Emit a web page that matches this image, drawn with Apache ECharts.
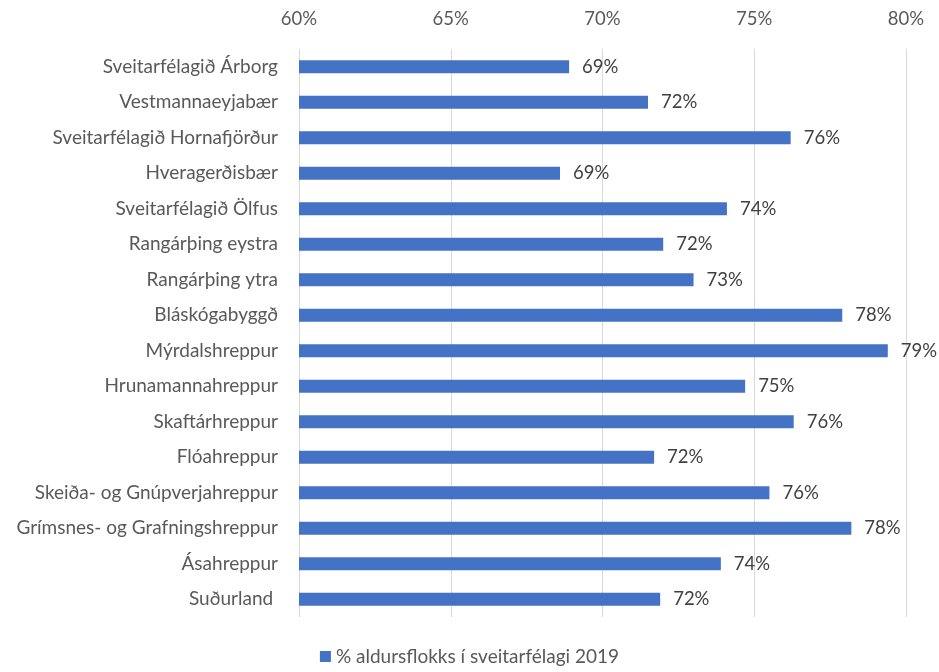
<!DOCTYPE html>
<html>
<head>
<meta charset="utf-8">
<script src="https://cdn.jsdelivr.net/npm/echarts@6/dist/echarts.min.js"></script>
<style>
html,body{margin:0;padding:0;background:#fff;}
#chart{width:939px;height:672px;}
</style>
</head>
<body>
<div id="chart"></div>
<script>
const categories = [
  "Sveitarfélagið Árborg",
  "Vestmannaeyjabær",
  "Sveitarfélagið Hornafjörður",
  "Hveragerðisbær",
  "Sveitarfélagið Ölfus",
  "Rangárþing eystra",
  "Rangárþing ytra",
  "Bláskógabyggð",
  "Mýrdalshreppur",
  "Hrunamannahreppur",
  "Skaftárhreppur",
  "Flóahreppur",
  "Skeiða- og Gnúpverjahreppur",
  "Grímsnes- og Grafningshreppur",
  "Ásahreppur",
  "Suðurland "
];
const values = [68.9, 71.5, 76.2, 68.6, 74.1, 72.0, 73.0, 77.9, 79.4, 74.7, 76.3, 71.7, 75.5, 78.2, 73.9, 71.9];
const seriesName = "% aldursflokks í sveitarfélagi 2019";
const axisMin = 60, axisMax = 80, axisStep = 5;

const font = "Lato, 'Open Sans', sans-serif";
const chart = echarts.init(document.getElementById('chart'));
chart.setOption({
  animation: false,
  textStyle: {fontFamily: font},
  grid: {left: 299, right: 33, top: 49, bottom: 55, containLabel: false},
  legend: {
    bottom: 1, left: 'center',
    itemWidth: 11, itemHeight: 11, itemGap: 6,
    icon: 'rect',
    textStyle: {fontSize: 19, color: '#595959', fontFamily: font},
    data: [seriesName]
  },
  xAxis: {
    type: 'value', position: 'top',
    min: axisMin, max: axisMax, interval: axisStep,
    axisLine: {show: false}, axisTick: {show: false},
    splitLine: {show: true, lineStyle: {color: '#d9d9d9', width: 1}},
    axisLabel: {formatter: v => v + '%', fontSize: 18.5, color: '#595959', margin: 20, fontFamily: font}
  },
  yAxis: {
    type: 'category', data: categories, inverse: true,
    axisLine: {show: false}, axisTick: {show: false},
    axisLabel: {fontSize: 19, color: '#595959', margin: 21, fontFamily: font}
  },
  series: [{
    name: seriesName, type: 'bar', data: values,
    barWidth: 13,
    itemStyle: {color: '#4472C4'},
    label: {show: true, position: 'right', distance: 13, formatter: p => Math.round(p.value) + '%', fontSize: 18.5, color: '#404040', fontFamily: font}
  }]
});
</script>
</body>
</html>
